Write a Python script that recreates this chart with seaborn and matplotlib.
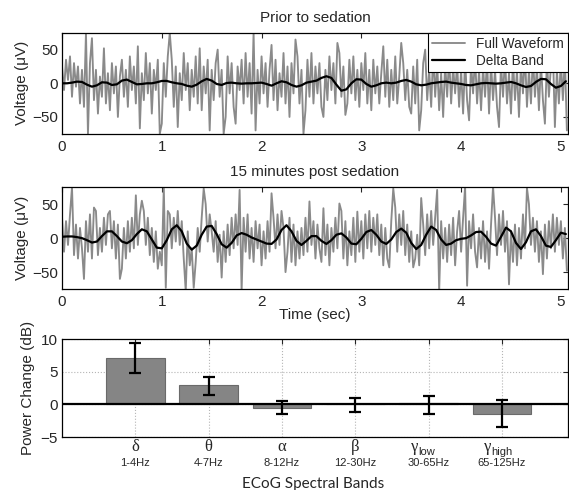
import numpy as np
import pandas as pd
import seaborn as sns
import matplotlib
matplotlib.use('Agg')
import matplotlib.pyplot as plt

# full waveform samples, every 0.02 s
full_pre = [25, -10, 35, 5, 40, -20, 30, -5, 25, -30,
            20, -35, 75, -75, 30, 67, -25, 20, -45, 10,
            -20, 52, -30, 15, -40, 30, -15, 25, -50, 10,
            35, -20, 20, -35, 40, -10, 25, -30, 55, -67,
            15, -25, 45, -15, 30, -45, 20, -10, 35, -75,
            -60, 30, -20, 40, 75, 35, -35, 25, -65, 15,
            -25, 45, -10, 30, -40, 20, -20, 40, -30, 52,
            -40, 25, -15, 35, -70, 20, -25, 30, 50, -20,
            20, -75, -50, 40, -15, 30, -35, -60, 25, -10,
            35, -30, 45, -20, 30, -45, 75, -70, 20, -30,
            40, -15, 30, -35, 20, 57, -25, 35, -40, 15,
            -20, 45, -30, 25, -50, 30, -15, 65, 40, -30,
            20, -75, -40, 35, -20, 45, -30, 25, -15, 30,
            -35, -50, 20, -25, 40, -10, 30, -30, 60, 45,
            -20, 25, -47, -30, 35, -15, 40, -25, 20, -35,
            30, -10, 45, -30, 20, -40, 35, -15, 25, -30,
            15, 55, -20, 35, -35, 20, -25, 40, -30, 10,
            60, 30, -25, 20, -35, -45, 25, -30, 35, -70,
            -40, 30, 50, -25, 20, -35, 45, -20, 30, -40,
            15, -50, 30, -20, 40, -30, 25, -15, 30, -35,
            20, -45, 35, -25, -55, 30, -15, 40, -30, 20,
            -40, 25, -20, 35, -45, 30, -25, 20, -35, -65,
            30, -20, 40, -30, 15, -45, 35, -25, 20, -50,
            30, -15, 45, -35, 20, -30, 40, -20, 25, -40,
            30, -25, -60, 35, -20, 25, 50, -65, 20, -30,
            35, -25, 40, -70]

full_post = [30, -20, 25, -10, 35, 75, -25, 20, -30, 15,
             -15, -60, 25, -20, 35, -30, 45, 40, -25, 15,
             -20, 30, -10, 35, 40, -15, 25, -30, 20, -60,
             -45, 15, -30, 25, -20, 30, -15, 63, -10, 35,
             55, 40, -10, 30, -25, 15, -35, 10, -45, -20,
             -40, 75, -73, 40, 35, -15, 30, -5, 40, -10,
             25, -30, -78, 10, -40, -15, -73, -35, 15, -20,
             30, 73, 50, -5, 35, 10, -20, 25, -35, 5,
             -58, 10, -35, 20, -25, 30, -15, 35, -10, 71,
             -78, 30, -20, 35, -30, 15, -35, 25, -15, 20,
             -40, 10, -30, 25, -20, 66, 30, -15, 35, -10,
             40, 15, -50, -20, 30, -35, 20, -40, 10, -30,
             15, -25, 30, -20, 54, -10, 25, -30, 20, -15,
             -35, 44, -25, 20, -40, 15, -20, 30, -15, 51,
             40, -30, 25, -40, 10, -25, 30, -35, 39, -20,
             25, -30, 35, -15, 40, -20, 30, -10, 35, -25,
             20, -40, 15, -30, -43, 25, 73, 45, -20, 35,
             -10, 40, -25, 20, -35, 10, -43, -30, 5, -40,
             59, 20, -25, 35, -15, 40, -10, 30, 71, -78,
             25, -30, 15, -35, 20, -25, 30, -40, 10, 40,
             -20, 30, 76, -70, 25, -15, 35, -20, -43, 15,
             -30, 25, -35, 10, -45, 20, 76, 30, -25, 35,
             -10, 40, -20, 25, -68, 10, -35, 20, -40, 15,
             -30, 35, -15, 74, 50, -10, 30, -20, 25, -35,
             10, -53, 20, -30, 25, -15, 35, -20, 30, -10,
             25, -30, 15, -48]

# delta band, every 0.05 s
delta_pre = [0, 0, 1, 2.5, 2, -2, -5, -3, 1.5, 1,
             -2.5, -1.5, 4, 5.5, 2, -1.5, -1, 0, 0, 1.5,
             3.5, 3.5, 1.5, 0, -1, -3.5, -5, -2, 3, 6.5,
             4, -1, -2.5, 0.5, 1, 0, -0.5, 0, 0, 0.5,
             1, -1, -3.5, 0, 3, 1.5, -2.5, -5, -3, 1,
             2.5, 4, 8, 10.5, 8, -2, -11, -9, 0, 6,
             5.5, -1, -5, -3, 0, 1, 0, 1, 3.5, 5,
             2.5, -1.5, -3, -2, 0, 1, 2, 2.5, 1, 0,
             -1, -2.5, -3, -1.5, 0, 0.5, 0, -0.5, 0, 1,
             2, 0, -3, -5.5, -4, 2, 6.5, 6, -1, -6.5,
             -4, 3]

delta_post = [2, 2.5, 2.5, 1.5, 0, -3, -6.5, -5, 3, 10,
              10, 3, -5, -7.5, -3, 6, 13, 10, -2, -14,
              -15, -3, 13, 19, 10, -8, -17, -11, 5, 17,
              18, 6, -9, -14, -7, 4, 7.5, 5, 1, -2,
              -5, -8, -8.5, -2, 12, 19, 10, -4, -10, -4,
              3, 3, -4, -8.5, -3, 5, 7, 1, -8, -9,
              -1, 9, 12, 5, -5, -8.5, -2, 9, 14, 8,
              -7, -16, -10, 5, 17, 12, -2, -10, -8, -3,
              -1, 0, 4, 9, 9.5, 2, -8, -11, 2, 15.5,
              10, -7, -16, -6, 10, 13, 3, -11, -13, -3,
              8, 6]

t_full = np.arange(len(full_pre)) * 0.02
t_delta = np.arange(len(delta_pre)) * 0.05

bands = ['delta', 'theta', 'alpha', 'beta', 'gamma_low', 'gamma_high']
greek = ['δ', 'θ', 'α', 'β', 'γ', 'γ']
greek_sub = ['', '', '', '', 'low', 'high']
freq = ['1-4Hz', '4-7Hz', '8-12Hz', '12-30Hz', '30-65Hz', '65-125Hz']
power = [7.1, 2.9, -0.5, 0.05, 0.15, -1.4]
err_mid = [7.1, 2.85, -0.5, -0.1, -0.07, -1.4]
err = [2.3, 1.35, 0.95, 1.1, 1.4, 2.0]

sns.set_style('white')
plt.rcParams['font.family'] = ['Liberation Sans', 'DejaVu Sans']
plt.rcParams['axes.linewidth'] = 0.9
plt.rcParams['xtick.direction'] = 'in'
plt.rcParams['ytick.direction'] = 'in'

GRAY = '#8a8a8a'

fig = plt.figure(figsize=(5.69, 4.90), dpi=100)
ax1 = fig.add_axes([0.109, 0.727, 0.889, 0.206])
ax2 = fig.add_axes([0.109, 0.410, 0.889, 0.208])
ax3 = fig.add_axes([0.109, 0.108, 0.889, 0.200])

for ax, full, dl, title in [(ax1, full_pre, delta_pre, 'Prior to sedation'),
                            (ax2, full_post, delta_post, '15 minutes post sedation')]:
    sns.lineplot(x=t_full, y=full, ax=ax, color=GRAY, lw=1.35, label='Full Waveform')
    sns.lineplot(x=t_delta, y=dl, ax=ax, color='black', lw=1.6, label='Delta Band')
    ax.set_xlim(0, 5.07)
    ax.set_ylim(-75, 75)
    ax.set_xticks([0, 1, 2, 3, 4, 5])
    ax.set_yticks([-50, 0, 50])
    ax.tick_params(labelsize=11, length=3.5, width=0.8, top=True, right=True, pad=4.5)
    ax.tick_params(axis='y', pad=3)
    ax.set_ylabel('Voltage (μV)', fontsize=11)
    ax.yaxis.set_label_coords(-0.066, 0.5)
    ax.set_title(title, fontsize=11, pad=8)
    for s in ax.spines.values():
        s.set_color('black')

leg = ax1.legend(loc='upper right', borderaxespad=0, fontsize=9.8, handlelength=2.4,
                 labelspacing=0.2, borderpad=0.3, fancybox=False, framealpha=1)
leg.get_frame().set_edgecolor('black')
leg.get_frame().set_linewidth(0.8)
ax2.get_legend().remove()
ax2.set_xlabel('Time (sec)', fontsize=11, labelpad=-1)

# bar chart
bar_df = pd.DataFrame({'band': bands, 'power': power})
sns.barplot(data=bar_df, x='band', y='power', ax=ax3, color='#858585',
            edgecolor='#6a6a6a', linewidth=0.8, width=0.8, errorbar=None, saturation=1)
ax3.errorbar(np.arange(len(bands)), err_mid, yerr=err, fmt='none', ecolor='black',
             elinewidth=1.6, capsize=4.5, capthick=1.6, zorder=5)
ax3.axhline(0, color='black', lw=1.6, zorder=4)
ax3.set_xlim(-1, 5.9)
ax3.set_ylim(-5, 10)
ax3.set_yticks([-5, 0, 5, 10])
ax3.set_xticks(range(len(bands)))
ax3.set_xticklabels([''] * len(bands))
ax3.grid(True, ls=':', color='#b5b5b5', lw=0.8)
ax3.set_axisbelow(True)
ax3.tick_params(labelsize=11, length=3.5, width=0.8, top=True, right=True)
ax3.tick_params(axis='y', pad=3)
ax3.set_xlabel('')
ax3.set_ylabel('Power Change (dB)', fontsize=11)
ax3.yaxis.set_label_coords(-0.053, 0.5)
for s in ax3.spines.values():
    s.set_color('black')

xt = ax3.get_xaxis_transform()
for i in range(len(bands)):
    if greek_sub[i]:
        ax3.annotate(greek[i], (i, -0.10), xycoords=xt, xytext=(-10, 0), textcoords='offset points',
                     ha='center', va='center', fontsize=12, family=['Liberation Serif', 'DejaVu Serif'])
        ax3.annotate(greek_sub[i], (i, -0.10), xycoords=xt, xytext=(-7.5, -3.5), textcoords='offset points',
                     ha='left', va='center', fontsize=8)
    else:
        ax3.text(i, -0.10, greek[i], transform=xt, ha='center', va='center', fontsize=12,
                 family=['Liberation Serif', 'DejaVu Serif'])
    ax3.text(i, -0.265, freq[i], transform=xt, ha='center', va='center', fontsize=8)

fig.text(313 / 569, 1 - 484 / 490, 'ECoG Spectral Bands', ha='center', va='center',
         fontsize=11, family=['Lato', 'DejaVu Sans'])

fig.savefig('out.png', dpi=100)
